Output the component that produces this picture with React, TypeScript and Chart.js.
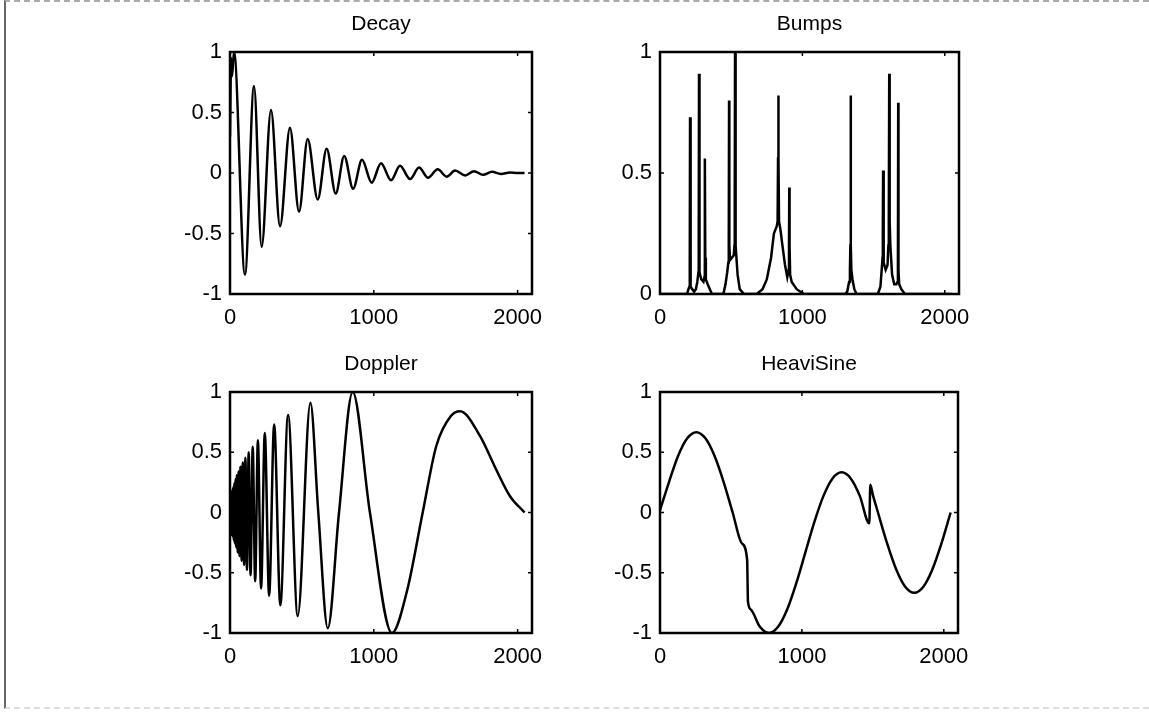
import React, { useEffect, useRef } from "react";
import { Chart, registerables } from "chart.js";

Chart.register(...registerables);

// ---------- data ----------
const X_TICKS = [0, 1000, 2000];
const X_MAX = 2100;
const Y_TICKS_SIGNED = [-1, -0.5, 0, 0.5, 1];
const Y_TICKS_BUMPS = [0, 0.5, 1];

const decayX = [0, 8, 14, 28, 104, 167, 220, 285, 348, 417, 480, 540, 610, 672, 735, 794, 856, 918, 985, 1050, 1120, 1182, 1252, 1315, 1377, 1444, 1507, 1565, 1636, 1697, 1759, 1822, 1884, 1947, 2000, 2048];
const decayY = [0.3, 0.95, 0.8, 1.0, -0.84, 0.72, -0.61, 0.52, -0.44, 0.375, -0.32, 0.28, -0.22, 0.2, -0.17, 0.14, -0.13, 0.11, -0.08, 0.08, -0.06, 0.06, -0.05, 0.045, -0.04, 0.03, -0.03, 0.02, -0.02, 0.015, -0.015, 0.01, -0.008, 0.005, 0, 0];

const bumpsX = [0, 190, 200, 206, 209, 211, 213, 217, 226, 240, 252, 262, 270, 272, 274, 276, 279, 290, 305, 312, 314, 316, 318, 322, 335, 350, 365, 445, 460, 472, 480, 483, 485, 487, 492, 505, 518, 523, 525, 527, 529, 533, 545, 560, 590, 680, 720, 750, 780, 800, 820, 826, 829, 831, 833, 836, 845, 860, 878, 894, 904, 906, 908, 910, 914, 925, 960, 1010, 1300, 1315, 1328, 1334, 1337, 1339, 1341, 1344, 1352, 1365, 1380, 1530, 1548, 1557, 1563, 1565, 1567, 1569, 1573, 1585, 1598, 1604, 1607, 1610, 1613, 1618, 1630, 1645, 1660, 1668, 1671, 1673, 1675, 1680, 1695, 1720, 2048];
const bumpsY = [0, 0, 0.02, 0.03, 0.1, 0.73, 0.1, 0.03, 0.02, 0.01, 0.02, 0.05, 0.09, 0.2, 0.91, 0.2, 0.09, 0.06, 0.05, 0.07, 0.15, 0.56, 0.15, 0.06, 0.04, 0.02, 0, 0, 0.04, 0.09, 0.13, 0.2, 0.8, 0.2, 0.14, 0.15, 0.16, 0.2, 0.4, 1.0, 0.4, 0.2, 0.08, 0.02, 0, 0, 0.02, 0.06, 0.15, 0.25, 0.28, 0.3, 0.56, 0.82, 0.56, 0.3, 0.27, 0.2, 0.12, 0.07, 0.1, 0.2, 0.44, 0.2, 0.08, 0.05, 0.02, 0, 0, 0.01, 0.05, 0.1, 0.2, 0.82, 0.2, 0.1, 0.06, 0.02, 0, 0, 0.03, 0.1, 0.15, 0.25, 0.51, 0.25, 0.13, 0.1, 0.12, 0.2, 0.3, 0.91, 0.3, 0.2, 0.08, 0.04, 0.04, 0.05, 0.1, 0.79, 0.1, 0.04, 0.02, 0, 0];

const dopplerX = [0, 2, 4, 6, 9, 12, 15, 19, 22, 26, 30, 34, 39, 43, 48, 54, 60, 66, 73, 81, 89, 98, 107, 118, 130, 143, 158, 175, 194, 216, 242, 272, 307, 350, 404, 471, 559, 614, 680, 758, 853, 973, 1126, 1229, 1340, 1434, 1536, 1600, 1741, 1843, 1946, 2048];
const dopplerY = [0.2, -0.2, 0.1, -0.12, 0.14, -0.16, 0.18, -0.2, 0.21, -0.23, 0.245, -0.26, 0.28, -0.29, 0.31, -0.33, 0.34, -0.36, 0.38, -0.4, 0.415, -0.435, 0.455, -0.476, 0.5, -0.52, 0.545, -0.57, 0.6, -0.63, 0.66, -0.69, 0.73, -0.77, 0.81, -0.86, 0.91, 0, -0.96, 0, 1.0, 0, -1.0, -0.66, 0, 0.55, 0.8, 0.84, 0.63, 0.376, 0.137, 0];

const heaviX = [0, 64, 128, 192, 256, 320, 384, 448, 512, 576, 614, 620, 640, 704, 768, 832, 896, 960, 1024, 1088, 1152, 1216, 1280, 1344, 1408, 1475, 1482, 1500, 1536, 1600, 1664, 1728, 1792, 1856, 1920, 1984, 2048];
const heaviY = [0.02, 0.255, 0.471, 0.616, 0.667, 0.616, 0.471, 0.255, 0, -0.255, -0.39, -0.74, -0.805, -0.949, -1, -0.949, -0.805, -0.588, -0.333, -0.078, 0.138, 0.283, 0.333, 0.283, 0.138, -0.09, 0.23, 0.146, 0, -0.255, -0.471, -0.616, -0.667, -0.616, -0.471, -0.255, 0];

// ---------- layout ----------
const SIDE = 70;
const TITLE_H = 52;
const XAXIS_H = 44;
const FONT_FAMILY = "'Liberation Sans', Arial, Helvetica, sans-serif";
const TICK_SIZE = 22;
const TITLE_SIZE = 21;

type Panel = {
  title: string;
  xs: number[];
  ys: number[];
  yMin: number;
  yTicks: number[];
  smooth: boolean;
  left: number;
  top: number;
  w: number;
  h: number;
};

const panels: Panel[] = [
  { title: "Decay", xs: decayX, ys: decayY, yMin: -1, yTicks: Y_TICKS_SIGNED, smooth: true, left: 230, top: 52, w: 302, h: 242 },
  { title: "Bumps", xs: bumpsX, ys: bumpsY, yMin: 0, yTicks: Y_TICKS_BUMPS, smooth: false, left: 660, top: 52, w: 299, h: 242 },
  { title: "Doppler", xs: dopplerX, ys: dopplerY, yMin: -1, yTicks: Y_TICKS_SIGNED, smooth: true, left: 230, top: 392, w: 302, h: 241 },
  { title: "HeaviSine", xs: heaviX, ys: heaviY, yMin: -1, yTicks: Y_TICKS_SIGNED, smooth: true, left: 660, top: 392, w: 298, h: 241 },
];

const framePlugin = {
  id: "matlabFrame",
  afterDatasetsDraw(chart: any) {
    const { ctx, chartArea: a, scales } = chart;
    ctx.save();
    ctx.strokeStyle = "#000";
    ctx.lineWidth = 2.5;
    ctx.strokeRect(a.left, a.top, a.right - a.left, a.bottom - a.top);
    ctx.lineWidth = 1.5;
    ctx.beginPath();
    for (const t of scales.x.ticks) {
      const px = scales.x.getPixelForValue(t.value);
      ctx.moveTo(px, a.bottom);
      ctx.lineTo(px, a.bottom - 4);
      ctx.moveTo(px, a.top);
      ctx.lineTo(px, a.top + 4);
    }
    for (const t of scales.y.ticks) {
      const py = scales.y.getPixelForValue(t.value);
      ctx.moveTo(a.left, py);
      ctx.lineTo(a.left + 4, py);
      ctx.moveTo(a.right, py);
      ctx.lineTo(a.right - 4, py);
    }
    ctx.stroke();
    ctx.restore();
  },
};

function PanelChart({ p }: { p: Panel }) {
  const ref = useRef<HTMLCanvasElement | null>(null);
  const cw = p.w + 2 * SIDE;
  const ch = TITLE_H + p.h + XAXIS_H;

  useEffect(() => {
    if (!ref.current) return;
    const font = { family: FONT_FAMILY, size: TICK_SIZE };
    const chart = new Chart(ref.current, {
      type: "line",
      data: {
        datasets: [
          {
            data: p.xs.map((x, i) => ({ x, y: p.ys[i] })),
            borderColor: "#000",
            borderWidth: 2.5,
            pointRadius: 0,
            fill: false,
            tension: 0,
            cubicInterpolationMode: p.smooth ? "monotone" : "default",
          } as any,
        ],
      },
      options: {
        animation: false,
        responsive: false,
        maintainAspectRatio: false,
        devicePixelRatio: 1,
        events: [],
        layout: { padding: { left: 0, right: SIDE, top: 0, bottom: 0 } },
        plugins: {
          legend: { display: false },
          tooltip: { enabled: false },
          title: {
            display: true,
            fullSize: false,
            text: p.title,
            color: "#000",
            font: { family: FONT_FAMILY, size: TITLE_SIZE, weight: "normal" },
            padding: { top: 12, bottom: 14.8 },
          },
        },
        scales: {
          x: {
            type: "linear",
            min: 0,
            max: X_MAX,
            grid: { display: false, drawTicks: false },
            border: { display: false },
            ticks: { font, color: "#000", padding: 11, maxRotation: 0, autoSkip: false, callback: (v: any) => String(v) },
            afterBuildTicks: (s: any) => {
              s.ticks = X_TICKS.map((v) => ({ value: v }));
            },
            afterFit: (s: any) => {
              s.height = XAXIS_H;
            },
          },
          y: {
            type: "linear",
            min: p.yMin,
            max: 1,
            grid: { display: false, drawTicks: false },
            border: { display: false },
            ticks: { font, color: "#000", padding: 8, autoSkip: false, callback: (v: any) => String(v) },
            afterBuildTicks: (s: any) => {
              s.ticks = p.yTicks.map((v) => ({ value: v }));
            },
            afterFit: (s: any) => {
              s.width = SIDE;
            },
          },
        },
      } as any,
      plugins: [framePlugin],
    });
    return () => chart.destroy();
  }, [p]);

  return (
    <canvas
      ref={ref}
      width={cw}
      height={ch}
      style={{ position: "absolute", left: p.left - SIDE, top: p.top - TITLE_H, width: cw, height: ch }}
    />
  );
}

export default function App() {
  return (
    <div style={{ position: "absolute", left: 0, top: 0, width: 1149, height: 712, background: "#fff", overflow: "hidden" }}>
      <div style={{ position: "absolute", left: 4, top: 0, width: 1145, height: 709, borderLeft: "2px solid #666", borderTop: "2px dashed #aaa", borderBottom: "2px dashed #ddd", boxSizing: "border-box" }} />
      {panels.map((p) => (
        <PanelChart key={p.title} p={p} />
      ))}
    </div>
  );
}
